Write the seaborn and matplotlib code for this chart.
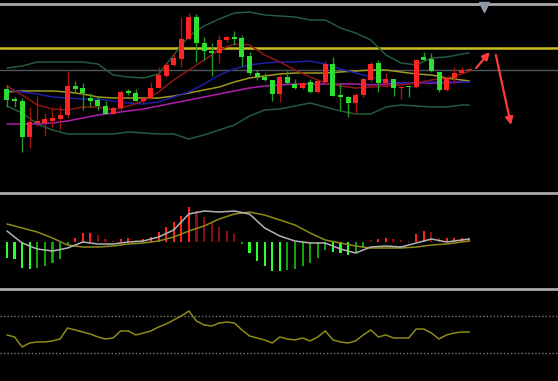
import matplotlib
matplotlib.use("Agg")
import matplotlib.pyplot as plt
import seaborn as sns

# --- datos (precio en unidades arbitrarias) ---
opens = [11.1, 10.1, 9.9, 6.3, 7.7, 7.7, 7.9, 8.1, 8.5, 11.4,
         11.2, 10.2, 10.0, 9.4, 8.6, 9.2, 10.9, 10.7, 9.9, 10.2,
         11.2, 12.4, 13.5, 14.1, 16.1, 18.3, 15.7, 14.9, 14.7, 16.0,
         16.3, 16.2, 14.4, 12.7, 12.3, 12.0, 10.6, 12.3, 11.6, 11.2,
         11.8, 10.8, 11.8, 13.6, 10.5, 10.3, 9.7, 10.5, 12.0, 13.7,
         11.7, 12.1, 11.2, 11.4, 11.3, 14.3, 14.1, 12.8, 11.0, 12.2,
         12.7, 13.0]
highs = [11.5, 10.3, 10.2, 9.3, 10.4, 8.7, 9.1, 9.4, 12.9, 11.9,
         11.7, 10.7, 10.4, 9.9, 9.4, 11.0, 11.1, 11.1, 10.3, 11.8,
         13.3, 13.7, 14.7, 18.3, 18.7, 18.6, 16.3, 15.7, 16.5, 16.4,
         16.9, 16.5, 14.8, 13.0, 12.7, 12.0, 12.5, 12.9, 12.1, 11.8,
         12.1, 12.0, 13.9, 14.3, 11.7, 10.4, 10.7, 12.3, 13.8, 14.0,
         12.7, 12.1, 11.4, 11.4, 14.1, 14.8, 14.7, 12.8, 12.3, 13.3,
         13.3, 13.1]
lows = [9.3, 9.3, 4.8, 5.2, 7.4, 6.4, 7.3, 7.0, 8.2, 10.7,
        9.0, 9.3, 9.0, 8.6, 8.6, 8.8, 10.5, 9.9, 9.7, 10.1,
        11.2, 12.3, 13.4, 13.3, 16.0, 13.8, 14.0, 12.4, 13.7, 15.8,
        15.5, 13.4, 12.5, 12.0, 11.9, 9.9, 9.8, 11.6, 11.1, 11.1,
        10.7, 10.7, 11.8, 10.4, 9.0, 8.3, 8.7, 10.3, 11.8, 10.8,
        11.3, 10.4, 10.1, 10.3, 11.2, 14.0, 12.8, 10.8, 10.9, 11.7,
        12.7, 12.8]
closes = [10.0, 9.9, 6.3, 7.8, 7.9, 8.1, 8.2, 8.5, 11.4, 11.1,
          10.7, 9.9, 9.4, 8.6, 9.2, 10.8, 10.7, 9.9, 10.2, 11.2,
          12.5, 13.5, 14.2, 16.1, 18.3, 15.7, 14.9, 14.7, 16.0, 16.3,
          16.1, 14.3, 12.7, 12.3, 12.0, 10.6, 12.3, 11.7, 11.2, 11.7,
          10.8, 11.9, 13.6, 10.4, 10.3, 9.7, 10.5, 12.1, 13.6, 11.7,
          12.1, 11.2, 11.3, 11.3, 14.0, 14.0, 12.9, 11.0, 12.2, 12.7,
          13.0, 13.0]

# líneas leídas cada dos velas
line_idx = list(range(0, 61, 2)) + [61]
boll_up = [13.2, 13.4, 13.8, 13.8, 13.8, 13.8, 13.6, 12.5, 12.3, 12.2, 12.6,
           14.5, 16.4, 17.4, 18.1, 18.7, 18.8, 18.5, 18.4, 18.3, 18.0, 18.0,
           17.2, 16.7, 16.0, 14.5, 13.7, 13.5, 14.2, 14.3, 14.6, 14.7]
boll_low = [9.4, 8.7, 7.6, 7.0, 6.6, 6.6, 6.6, 6.6, 6.8, 6.7, 6.6, 6.6,
            6.1, 6.5, 7.0, 7.5, 8.4, 9.0, 9.1, 9.4, 9.7, 9.3, 8.9, 8.6,
            8.6, 9.3, 9.5, 9.4, 9.3, 9.3, 9.5, 9.5]
ma_red = [11.4, 10.5, 9.5, 9.1, 9.0, 9.3, 9.3, 9.0, 9.4, 9.9, 10.8, 12.0,
          13.0, 14.0, 15.0, 15.6, 15.5, 14.5, 13.8, 13.0, 12.3, 11.7, 11.4,
          11.2, 11.3, 11.4, 11.5, 11.7, 12.0, 12.2, 12.6, 12.9]
ma_blue = [11.0, 10.8, 10.6, 10.3, 10.2, 10.1, 10.1, 9.9, 9.7, 9.6, 9.8,
           10.3, 10.8, 11.6, 12.5, 13.1, 13.5, 13.7, 13.8, 13.8, 13.9, 13.6,
           13.1, 12.7, 12.3, 11.9, 11.7, 11.7, 11.8, 11.8, 11.8, 11.8]
ma_yellow = [10.8, 10.9, 10.9, 10.9, 10.8, 10.6, 10.3, 10.2, 10.2, 10.2,
             10.2, 10.4, 10.7, 11.0, 11.3, 11.8, 12.2, 12.4, 12.6, 12.7,
             12.7, 12.7, 12.8, 12.9, 13.0, 13.0, 12.8, 12.6, 12.5, 12.2,
             12.0, 11.9]
ma_purple = [7.6, 7.6, 7.6, 7.7, 7.9, 8.2, 8.5, 8.7, 8.9, 9.1, 9.4, 9.7,
             10.0, 10.3, 10.6, 10.9, 11.2, 11.4, 11.5, 11.6, 11.6, 11.6,
             11.6, 11.6, 11.5, 11.6, 11.7, 11.7, 11.7, 11.7, 11.8, 11.8]
resistance = 15.2
last_price = 13.0

# MACD
macd_hist = [-0.16, -0.17, -0.26, -0.27, -0.26, -0.24, -0.21, -0.17, -0.03, 0.04,
             0.09, 0.09, 0.07, 0.03, 0.01, 0.03, 0.04, 0.02, 0.03, 0.05,
             0.10, 0.15, 0.20, 0.26, 0.35, 0.31, 0.25, 0.19, 0.15, 0.11,
             0.08, -0.02, -0.11, -0.19, -0.24, -0.29, -0.29, -0.28, -0.27, -0.24,
             -0.21, -0.16, -0.08, -0.10, -0.11, -0.13, -0.10, -0.06, 0.02, 0.03,
             0.04, 0.03, 0.02, 0.01, 0.08, 0.11, 0.10, 0.04, 0.04, 0.04,
             0.04, 0.04]
dif = [0.11, -0.01, -0.07, -0.09, -0.06, 0.00, -0.02, -0.02, 0.00, 0.01, 0.05,
       0.12, 0.28, 0.31, 0.30, 0.31, 0.28, 0.14, 0.06, 0.01, -0.01, -0.01,
       -0.07, -0.11, -0.05, -0.04, -0.05, -0.01, 0.03, 0.00, 0.02, 0.03]
dea = [0.18, 0.14, 0.10, 0.04, -0.03, -0.05, -0.05, -0.04, -0.02, -0.01, 0.01,
       0.05, 0.11, 0.16, 0.23, 0.28, 0.30, 0.27, 0.22, 0.17, 0.09, 0.02,
       -0.01, -0.04, -0.06, -0.06, -0.06, -0.05, -0.03, -0.02, 0.00, 0.01]

# oscilador (0-100)
osc = [49.5, 47.3, 36.5, 40.8, 41.9, 41.9, 43.0, 45.1, 57.0, 54.9,
       52.7, 50.5, 47.3, 45.1, 46.2, 53.8, 53.8, 49.5, 51.6, 53.8,
       58.1, 61.3, 65.7, 70.0, 75.4, 64.6, 60.3, 59.2, 62.4, 63.5,
       62.4, 54.9, 48.4, 46.2, 44.1, 40.8, 47.3, 45.1, 44.1, 46.2,
       43.0, 47.3, 53.8, 44.1, 41.9, 40.8, 43.0, 49.5, 54.9, 47.3,
       49.5, 46.2, 46.2, 46.2, 55.9, 55.9, 51.6, 45.1, 49.5, 51.6,
       52.7, 52.7]
osc_levels = [30, 70]

# flechas dibujadas a mano sobre el gráfico (vela, precio)
arrow_up = [(61.9, 13.2), (63.7, 14.8)]
arrow_down = [(64.5, 14.5), (66.5, 7.5)]

idx = list(range(len(opens)))

sns.set_theme(style="dark", rc={"axes.facecolor": "black",
                                "figure.facecolor": "black"})

fig = plt.figure(figsize=(5.58, 3.81), dpi=100)
ax = fig.add_axes([0, 0.4987, 1, 0.4908])
ax_macd = fig.add_axes([0, 0.2467, 1, 0.2467])
ax_osc = fig.add_axes([0, 0.0, 1, 0.2415])

xlim = (-0.92, 72.7)
for a in (ax, ax_macd, ax_osc):
    a.set_facecolor("black")
    a.set_xlim(*xlim)
    a.set_xticks([])
    a.set_yticks([])
    a.grid(False)
    for s in ("left", "right", "bottom"):
        a.spines[s].set_visible(False)
    a.spines["top"].set_color("#a9a9a9")
    a.spines["top"].set_linewidth(2)
    a.set_xlabel("")
    a.set_ylabel("")

# --- panel principal ---
ax.set_ylim(0.9, 19.6)
ax.axhline(resistance, color="#c9bf1c", lw=1.8, zorder=1)
ax.axhline(last_price, color="#50565e", lw=1, zorder=1)

line_styles = [
    (boll_up, "#245a40"), (boll_low, "#245a40"),
    (ma_purple, "#b01cb0"), (ma_yellow, "#a09a1e"),
    (ma_blue, "#1d1da8"), (ma_red, "#8e1616"),
]
for vals, col in line_styles:
    sns.lineplot(x=line_idx, y=vals, ax=ax, color=col, lw=1.1, zorder=2)

for i in idx:
    o, h, l, c = opens[i], highs[i], lows[i], closes[i]
    up = c >= o
    body_col = "#ff2424" if up else "#2fdf2f"
    wick_col = "#a81414" if up else "#1f9a1f"
    ax.vlines(i, l, h, color=wick_col, lw=1, zorder=3)
    ax.bar(i, max(abs(c - o), 0.1), bottom=min(o, c), width=0.66,
           color=body_col, edgecolor=body_col, lw=0, zorder=4)

for (x0, y0), (x1, y1) in (arrow_up, arrow_down):
    ax.annotate("", xy=(x1, y1), xytext=(x0, y0),
                arrowprops=dict(arrowstyle="-|>", color="#ff3b3b", lw=1.6,
                                mutation_scale=11, shrinkA=0, shrinkB=0))

ax.plot([62.9], [19.35], marker="v", color="#8d99a6", markersize=7,
        clip_on=False, zorder=5)

# --- MACD ---
ax_macd.set_ylim(-0.45, 0.49)
hist_cols = []
for i, v in enumerate(macd_hist):
    prev = abs(macd_hist[i - 1]) if i > 0 else 0
    grow = abs(v) >= prev
    if v >= 0:
        hist_cols.append("#ff2020" if grow else "#8a0c0c")
    else:
        hist_cols.append("#2cff2c" if grow else "#10a010")
ax_macd.bar(idx, macd_hist, width=0.28, color=hist_cols, lw=0, zorder=2)
sns.lineplot(x=line_idx, y=dea, ax=ax_macd, color="#8f8a18", lw=1.1, zorder=3)
sns.lineplot(x=line_idx, y=dif, ax=ax_macd, color="#b4b4b4", lw=1.1, zorder=3)

# --- oscilador ---
ax_osc.set_ylim(-0.3, 99.2)
for lv in osc_levels:
    ax_osc.axhline(lv, color="#7a7a7a", lw=1, ls=(0, (1, 1.5)), zorder=1)
sns.lineplot(x=idx, y=osc, ax=ax_osc, color="#8f8a18", lw=1.1, zorder=2)

for a in (ax, ax_macd, ax_osc):
    a.set_xlabel("")
    a.set_ylabel("")
    if a.get_legend():
        a.get_legend().remove()

fig.savefig("out.png", dpi=100, facecolor="black")
